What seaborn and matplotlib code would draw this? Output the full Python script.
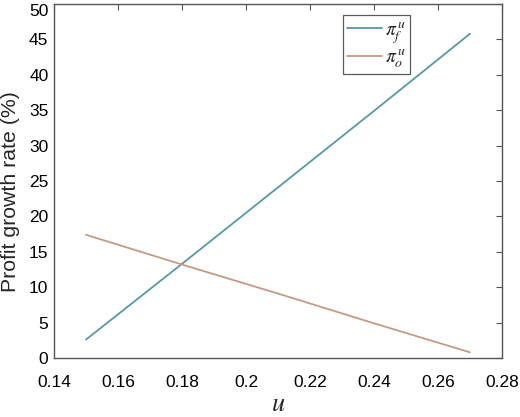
import matplotlib
matplotlib.use("Agg")
import matplotlib.pyplot as plt
import seaborn as sns
import pandas as pd

u_values = [0.15, 0.18, 0.21, 0.24, 0.27]
pi_f = [2.6, 13.3, 24.1, 34.9, 45.8]
pi_o = [17.4, 13.2, 9.1, 4.9, 0.8]
series_labels = [r"$\pi_f^{\,u}$", r"$\pi_o^{\,u}$"]
x_ticks = [0.14, 0.16, 0.18, 0.2, 0.22, 0.24, 0.26, 0.28]
x_tick_labels = ["0.14", "0.16", "0.18", "0.2", "0.22", "0.24", "0.26", "0.28"]
y_ticks = [0, 5, 10, 15, 20, 25, 30, 35, 40, 45, 50]

sns.set_theme(style="white")
plt.rcParams["font.family"] = ["Liberation Sans", "DejaVu Sans"]
plt.rcParams["mathtext.fontset"] = "stix"

df = pd.DataFrame({
    "u": u_values * 2,
    "value": pi_f + pi_o,
    "series": [series_labels[0]] * len(u_values) + [series_labels[1]] * len(u_values),
})

fig = plt.figure(figsize=(5.2, 4.17), dpi=100)
ax = fig.add_axes([54 / 520, 1 - 358 / 417, 448 / 520, 354 / 417])
sns.lineplot(data=df, x="u", y="value", hue="series",
             palette=["#5b96a6", "#c49a84"], linewidth=1.3, ax=ax)

ax.set_xlim(0.14, 0.28)
ax.set_ylim(0, 50)
ax.set_xticks(x_ticks)
ax.set_xticklabels(x_tick_labels)
ax.set_yticks(y_ticks)
ax.tick_params(direction="in", length=4, width=0.8, color="#555555",
               labelsize=12.5, top=True, right=True, labelcolor="black")
ax.tick_params(axis="x", pad=12)
ax.tick_params(axis="y", pad=4)
for s in ax.spines.values():
    s.set_color("#555555")
    s.set_linewidth(1.0)
ax.set_xlabel(r"$u$", fontsize=19, labelpad=2)
ax.set_ylabel("Profit growth rate (%)", fontsize=15.3)
ax.yaxis.set_label_coords(-0.076, 0.47)

fig.canvas.draw()
ax.get_yticklabels()[-1].set_verticalalignment("top")

leg = ax.legend(loc="upper left", bbox_to_anchor=(289 / 448, 1 - 11 / 354),
                fontsize=14, frameon=True, fancybox=False, handlelength=1.8,
                borderpad=0.2, labelspacing=0.05, handletextpad=0.15,
                borderaxespad=0)
leg.get_frame().set_edgecolor("#333333")
leg.get_frame().set_linewidth(0.9)

fig.savefig("out.png", dpi=100)
